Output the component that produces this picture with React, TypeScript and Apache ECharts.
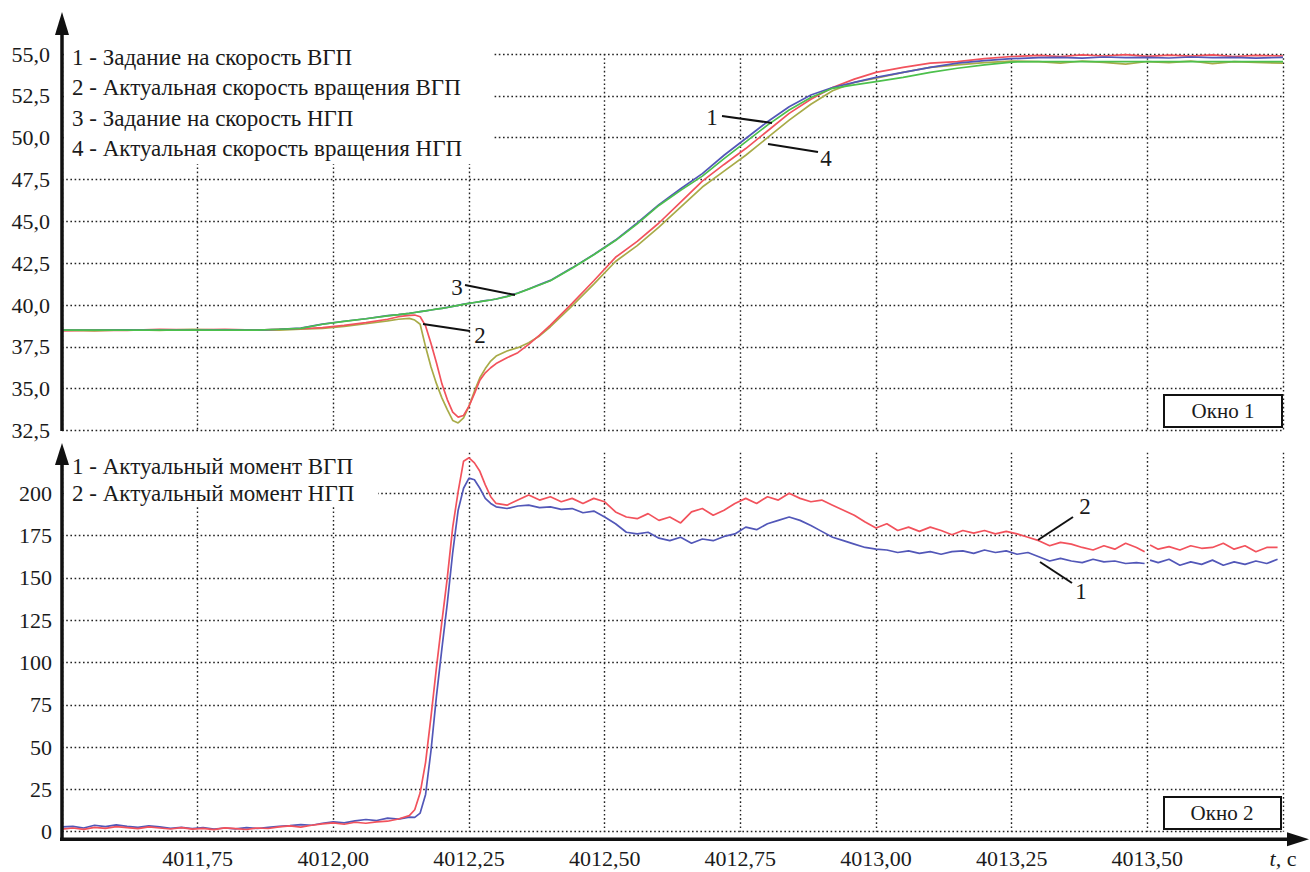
import React, { useEffect, useRef } from "react";
import * as echarts from "echarts";

// ---------- Top window (speeds) ----------
const T_TOP = [
  4011.5, 4011.56, 4011.62, 4011.68, 4011.74, 4011.8, 4011.86, 4011.9, 4011.94, 4011.98,
  4012.02, 4012.06, 4012.1, 4012.12, 4012.14, 4012.15, 4012.16, 4012.17, 4012.18, 4012.19,
  4012.2, 4012.21, 4012.22, 4012.23, 4012.24, 4012.25, 4012.26, 4012.27, 4012.28, 4012.29,
  4012.3, 4012.32, 4012.34, 4012.36, 4012.38, 4012.4, 4012.44, 4012.48, 4012.52, 4012.56,
  4012.6, 4012.64, 4012.68, 4012.72, 4012.76, 4012.8, 4012.84, 4012.88, 4012.92, 4012.96,
  4013.0, 4013.05, 4013.1, 4013.15, 4013.2, 4013.25, 4013.3, 4013.34, 4013.38, 4013.42,
  4013.46, 4013.5, 4013.54, 4013.58, 4013.62, 4013.66, 4013.7, 4013.75,
];
// 1 - Задание на скорость ВГП (blue)
const SPEED_REF_VGP = [
  38.5, 38.5, 38.52, 38.5, 38.5, 38.52, 38.5, 38.55, 38.62, 38.86,
  39.03, 39.18, 39.36, 39.42, 39.5, 39.55, 39.6, 39.65, 39.7, 39.76,
  39.8, 39.86, 39.92, 39.98, 40.05, 40.1, 40.15, 40.2, 40.26, 40.3,
  40.36, 40.52, 40.72, 40.96, 41.22, 41.47, 42.22, 43.02, 43.88, 44.9,
  46.0, 46.95, 47.85, 48.95, 49.95, 50.95, 51.85, 52.55, 53.0, 53.3,
  53.6, 53.9, 54.2, 54.45, 54.6, 54.72, 54.78, 54.8, 54.75, 54.82,
  54.78, 54.8, 54.76, 54.82, 54.78, 54.8, 54.75, 54.8,
];
// 2 - Актуальная скорость вращения ВГП (red)
const SPEED_ACT_VGP = [
  38.45, 38.5, 38.48, 38.55, 38.52, 38.55, 38.5, 38.55, 38.58, 38.65,
  38.78, 38.95, 39.15, 39.3, 39.38, 39.4, 39.3, 38.75, 37.7, 36.55,
  35.3, 34.35, 33.6, 33.3, 33.4, 33.95, 34.7, 35.5, 35.95, 36.25,
  36.5, 36.85, 37.15, 37.65, 38.2, 38.8, 40.1, 41.45, 42.85, 43.8,
  44.9, 46.15, 47.4, 48.4, 49.35, 50.4, 51.45, 52.3, 53.0, 53.5,
  53.9, 54.2, 54.45, 54.55, 54.72, 54.85, 54.92, 54.85, 54.95, 54.88,
  54.96, 54.86, 54.93, 54.87, 54.95, 54.85, 54.92, 54.88,
];
// 3 - Задание на скорость НГП (green)
const SPEED_REF_NGP = [
  38.5, 38.5, 38.5, 38.5, 38.5, 38.5, 38.5, 38.55, 38.6, 38.85,
  39.02, 39.18, 39.35, 39.42, 39.5, 39.55, 39.6, 39.65, 39.7, 39.75,
  39.8, 39.85, 39.92, 39.98, 40.04, 40.1, 40.15, 40.2, 40.25, 40.3,
  40.36, 40.5, 40.7, 40.95, 41.2, 41.45, 42.2, 43.0, 43.85, 44.85,
  45.95, 46.85, 47.7, 48.75, 49.75, 50.75, 51.65, 52.4, 52.95, 53.15,
  53.35, 53.6, 53.9, 54.15, 54.35, 54.52, 54.55, 54.55, 54.55, 54.55,
  54.55, 54.55, 54.55, 54.55, 54.55, 54.55, 54.55, 54.55,
];
// 4 - Актуальная скорость вращения НГП (olive)
const SPEED_ACT_NGP = [
  38.5, 38.45, 38.52, 38.48, 38.55, 38.5, 38.52, 38.5, 38.55, 38.6,
  38.72, 38.88, 39.05, 39.15, 39.2, 39.1, 38.85, 37.5, 36.3, 35.3,
  34.45, 33.75, 33.1, 32.95, 33.25, 33.95, 34.85, 35.65, 36.2, 36.65,
  36.95, 37.25, 37.45, 37.75, 38.15, 38.7, 39.95, 41.25, 42.6, 43.55,
  44.65, 45.85, 47.05, 48.0, 48.95, 50.0, 51.05, 52.0, 52.8, 53.3,
  53.55, 53.9, 54.2, 54.35, 54.48, 54.58, 54.55, 54.45, 54.58, 54.5,
  54.4, 54.55, 54.48, 54.58, 54.42, 54.55, 54.5, 54.45,
];

// ---------- Bottom window (torques) ----------
const T_BOTTOM = [
  4011.5, 4011.52, 4011.54, 4011.56, 4011.58, 4011.6, 4011.62, 4011.64, 4011.66, 4011.68,
  4011.7, 4011.72, 4011.74, 4011.76, 4011.78, 4011.8, 4011.82, 4011.84, 4011.86, 4011.88,
  4011.9, 4011.92, 4011.94, 4011.96, 4011.98, 4012.0, 4012.02, 4012.04, 4012.06, 4012.08,
  4012.1, 4012.12, 4012.14,
  4012.15, 4012.16, 4012.17, 4012.18, 4012.19, 4012.2, 4012.21, 4012.22, 4012.23, 4012.24,
  4012.25, 4012.26, 4012.27, 4012.28, 4012.29, 4012.3,
  4012.32, 4012.34, 4012.36, 4012.38, 4012.4, 4012.42, 4012.44, 4012.46, 4012.48, 4012.5,
  4012.52, 4012.54, 4012.56, 4012.58, 4012.6, 4012.62, 4012.64, 4012.66, 4012.68, 4012.7,
  4012.72, 4012.74, 4012.76, 4012.78, 4012.8, 4012.82, 4012.84, 4012.86, 4012.88, 4012.9,
  4012.92, 4012.94, 4012.96, 4012.98, 4013.0, 4013.02, 4013.04, 4013.06, 4013.08, 4013.1,
  4013.12, 4013.14, 4013.16, 4013.18, 4013.2, 4013.22, 4013.24, 4013.26, 4013.28, 4013.3,
  4013.32, 4013.34, 4013.36, 4013.38, 4013.4, 4013.42, 4013.44, 4013.46, 4013.48,
  4013.495, 4013.5, 4013.505,
  4013.52, 4013.54, 4013.56, 4013.58, 4013.6, 4013.62, 4013.64, 4013.66, 4013.68, 4013.7,
  4013.72, 4013.74,
];
// 1 - Актуальный момент ВГП (blue)
const TORQUE_VGP = [
  2.8, 3.2, 2.2, 3.8, 3.0, 4.0, 3.2, 2.6, 3.4, 2.8,
  2.0, 2.6, 1.8, 2.4, 1.6, 2.2, 1.7, 2.4, 1.9, 2.6,
  3.2, 3.6, 4.2, 3.8, 5.0, 5.8, 5.2, 6.4, 7.2, 6.6,
  8.0, 7.4, 8.6,
  8.5, 11, 22, 48, 80, 108, 135, 165, 190, 203,
  209, 208, 203, 197, 194, 192,
  191, 192.5, 193, 191.5, 192, 190.5, 191, 188.5, 189.5, 186,
  182, 177, 176, 177, 173.5, 172, 174, 170.5, 173, 172,
  174.5, 176, 180, 178.5, 182, 184, 186, 184, 181, 177.5,
  174, 172, 170, 168, 167, 166.5, 165, 166, 164.5, 165.5,
  164, 165.5, 166, 164.5, 166.5, 165, 166, 164, 165, 162.5,
  160, 161.5, 160, 159, 161, 159.5, 160, 158.5, 159,
  158.5, null, 160.5,
  159, 161, 157.5, 159.5, 158, 160.5, 157.5, 159.5, 158, 160,
  158.5, 161,
];
// 2 - Актуальный момент НГП (red)
const TORQUE_NGP = [
  1.5, 2.2, 1.4, 2.6, 2.0, 3.0, 2.4, 1.8, 2.8, 2.2,
  1.6, 2.4, 1.5, 2.0, 1.2, 2.3, 1.8, 1.3, 2.2, 1.9,
  2.8, 3.4, 2.7, 3.8, 4.6, 5.2, 4.4, 5.6, 5.0, 5.8,
  6.2, 7.5, 9.5,
  13, 23, 41, 68, 97, 124, 150, 180, 201, 219,
  221, 218, 213, 205, 198, 194,
  193, 196, 199, 196, 198, 195, 197, 194, 197, 195,
  189, 186, 185, 188, 184, 186, 182.5, 189, 191, 187,
  190, 194, 197, 194, 198, 196, 200, 197, 195, 196,
  193, 190, 187, 183, 179.5, 182, 178, 180, 177.5, 180,
  178, 175.5, 178, 176.5, 178, 176, 177.5, 176, 174, 172,
  169, 171, 170, 168, 166.5, 169, 167, 170.5, 168,
  165.5, null, 169.5,
  167, 168.5, 166.5, 169, 167.5, 168, 170.5, 167, 169, 165.5,
  168, 168,
];

const TOP_LEGEND = [
  "1 - Задание на скорость ВГП",
  "2 - Актуальная скорость вращения ВГП",
  "3 - Задание на скорость НГП",
  "4 - Актуальная скорость вращения НГП",
];
const BOTTOM_LEGEND = ["1 - Актуальный момент ВГП", "2 - Актуальный момент НГП"];

const COLORS = {
  blue: "#5257b8",
  red: "#f2525c",
  green: "#4cc04c",
  olive: "#a8ab48",
};

const FONT = "Liberation Serif";
const TEXT = "#1a1a1a";

const pairs = (t: number[], v: (number | null)[]) => t.map((x, i) => [x, v[i]]);

export default function App() {
  const ref = useRef<HTMLDivElement>(null);

  useEffect(() => {
    if (!ref.current) return;
    const chart = echarts.init(ref.current, undefined, { renderer: "svg" });

    const dotted = { color: "#222", type: [1.6, 2.6] as any, width: 1.4 };
    const lineSeries = (name: string, xi: number, t: number[], v: (number | null)[], color: string) => ({
      name,
      type: "line",
      xAxisIndex: xi,
      yAxisIndex: xi,
      data: pairs(t, v),
      showSymbol: false,
      symbol: "none",
      connectNulls: false,
      lineStyle: { color, width: 1.7 },
      itemStyle: { color },
      z: 3,
    });

    const textStyle = (s: string, size: number, extra: any = {}) => ({
      text: s,
      fontFamily: FONT,
      fontSize: size,
      fill: TEXT,
      ...extra,
    });

    const leader = (x1: number, y1: number, x2: number, y2: number) => ({
      type: "line",
      shape: { x1, y1, x2, y2 },
      style: { stroke: "#111", lineWidth: 2 },
      z: 20,
    });
    const num = (x: number, y: number, s: string) => ({
      type: "text",
      x,
      y,
      style: textStyle(s, 23, { align: "center", verticalAlign: "middle" }),
      z: 21,
    });

    const legendTexts = (items: string[], x: number, y0: number, dy: number) =>
      items.map((s, i) => ({
        type: "text",
        x,
        y: y0 + i * dy,
        style: textStyle(s, 23, { verticalAlign: "middle" }),
        z: 11,
      }));

    const option: any = {
      animation: false,
      backgroundColor: "#fff",
      textStyle: { fontFamily: FONT },
      grid: [
        { left: 62, right: 27, top: 54, height: 376.5, outerBoundsMode: "none" },
        { left: 62, right: 27, top: 452.7, height: 379, outerBoundsMode: "none" },
      ],
      xAxis: [
        {
          type: "value",
          gridIndex: 0,
          min: 4011.5,
          max: 4013.75,
          interval: 0.25,
          axisLine: { show: false },
          axisTick: { show: false },
          axisLabel: { show: false },
          splitLine: { show: true, lineStyle: dotted },
        },
        {
          type: "value",
          gridIndex: 1,
          min: 4011.5,
          max: 4013.75,
          interval: 0.25,
          offset: 7.6,
          axisLine: { show: false },
          axisTick: { show: false },
          splitLine: { show: true, lineStyle: dotted },
          axisLabel: {
            show: true,
            margin: 8,
            showMinLabel: false,
            showMaxLabel: true,
            fontFamily: FONT,
            fontSize: 22,
            color: TEXT,
            formatter: (v: number) =>
              Math.abs(v - 4013.75) < 1e-6 ? "{i|t,} с" : v.toFixed(2).replace(".", ","),
            rich: { i: { fontStyle: "italic", fontFamily: FONT, fontSize: 22, color: TEXT } },
          },
        },
      ],
      yAxis: [
        {
          type: "value",
          gridIndex: 0,
          min: 32.5,
          max: 55,
          interval: 2.5,
          axisLine: { show: false },
          axisTick: { show: false },
          splitLine: { show: true, lineStyle: dotted },
          axisLabel: {
            margin: 12,
            fontFamily: FONT,
            fontSize: 22,
            color: TEXT,
            formatter: (v: number) => v.toFixed(1).replace(".", ","),
          },
        },
        {
          type: "value",
          gridIndex: 1,
          min: 0,
          max: 224,
          interval: 25,
          axisLine: { show: false },
          axisTick: { show: false },
          splitLine: { show: true, lineStyle: dotted, showMaxLine: false },
          axisLabel: {
            margin: 10,
            showMaxLabel: false,
            fontFamily: FONT,
            fontSize: 22,
            color: TEXT,
            formatter: (v: number) => (v > 210 ? "" : String(Math.round(v))),
          },
        },
      ],
      series: [
        lineSeries("4 - Актуальная скорость вращения НГП", 0, T_TOP, SPEED_ACT_NGP, COLORS.olive),
        lineSeries("2 - Актуальная скорость вращения ВГП", 0, T_TOP, SPEED_ACT_VGP, COLORS.red),
        lineSeries("1 - Задание на скорость ВГП", 0, T_TOP, SPEED_REF_VGP, COLORS.blue),
        lineSeries("3 - Задание на скорость НГП", 0, T_TOP, SPEED_REF_NGP, COLORS.green),
        lineSeries("1 - Актуальный момент ВГП", 1, T_BOTTOM, TORQUE_VGP, COLORS.blue),
        lineSeries("2 - Актуальный момент НГП", 1, T_BOTTOM, TORQUE_NGP, COLORS.red),
      ],
      graphic: [
        // top legend
        { type: "rect", shape: { x: 64, y: 40, width: 428, height: 124 }, style: { fill: "#fff" }, z: 10 },
        ...legendTexts(TOP_LEGEND, 72, 57, 30.5),
        // bottom legend
        { type: "rect", shape: { x: 64, y: 452, width: 314, height: 54 }, style: { fill: "#fff" }, z: 10 },
        ...legendTexts(BOTTOM_LEGEND, 72, 466, 27.5),
        // window labels
        {
          type: "rect",
          shape: { x: 1164, y: 395, width: 118, height: 32 },
          style: { fill: "#fff", stroke: "#111", lineWidth: 2 },
          z: 12,
        },
        {
          type: "text",
          x: 1223,
          y: 411,
          style: textStyle("Окно 1", 21, { align: "center", verticalAlign: "middle" }),
          z: 13,
        },
        {
          type: "rect",
          shape: { x: 1164, y: 797, width: 117, height: 32 },
          style: { fill: "#fff", stroke: "#111", lineWidth: 2 },
          z: 12,
        },
        {
          type: "text",
          x: 1222,
          y: 813,
          style: textStyle("Окно 2", 21, { align: "center", verticalAlign: "middle" }),
          z: 13,
        },
        // leader lines and numbers (top)
        leader(722, 116, 772, 123),
        num(712, 117, "1"),
        leader(768, 144, 818, 152),
        num(826, 158, "4"),
        leader(465, 285, 515, 295),
        num(457, 287, "3"),
        leader(423, 324, 470, 331),
        num(480, 335, "2"),
        // leader lines and numbers (bottom)
        leader(1038, 540, 1073, 517),
        num(1085, 506, "2"),
        leader(1040, 562, 1072, 583),
        num(1081, 591, "1"),
        // axes with arrows
        { type: "line", shape: { x1: 62, y1: 431, x2: 62, y2: 28 }, style: { stroke: "#111", lineWidth: 3.5 }, z: 15 },
        { type: "polygon", shape: { points: [[62, 12], [55, 35], [69, 35]] }, style: { fill: "#111" }, z: 15 },
        { type: "line", shape: { x1: 62, y1: 841, x2: 62, y2: 460 }, style: { stroke: "#111", lineWidth: 3.5 }, z: 15 },
        { type: "polygon", shape: { points: [[62, 443], [55, 465], [69, 465]] }, style: { fill: "#111" }, z: 15 },
        { type: "line", shape: { x1: 60, y1: 839.3, x2: 1292, y2: 839.3 }, style: { stroke: "#111", lineWidth: 3.5 }, z: 15 },
        { type: "polygon", shape: { points: [[1309, 839.3], [1287, 832.3], [1287, 846.3]] }, style: { fill: "#111" }, z: 15 },
      ],
    };

    chart.setOption(option);
    return () => chart.dispose();
  }, []);

  return (
    <div
      ref={ref}
      style={{ position: "fixed", left: 0, top: 0, width: 1310, height: 872, background: "#fff" }}
    />
  );
}
